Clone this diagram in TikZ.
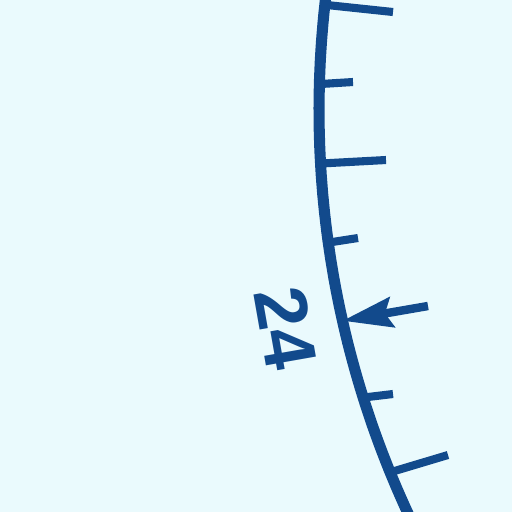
\documentclass[tikz,border=0pt]{standalone}
\usepackage{fontspec}
\setmainfont{Liberation Sans}
\usetikzlibrary{arrows.meta}
\definecolor{scaleblue}{RGB}{18,74,140}
\definecolor{paper}{RGB}{234,250,253}

\begin{document}
\begin{tikzpicture}[x=0.02cm, y=-0.02cm,
    dial/.style={draw=scaleblue, line width=6.3pt},
    scaletick/.style={draw=scaleblue, line width=4.6pt},
    pointer/.style={draw=scaleblue, line width=4.8pt,
      -{Stealth[length=1cm, width=0.6cm, inset=0.14cm]}}]
  \fill[paper] (0,0) rectangle (512,512);
  \useasboundingbox (0,0) rectangle (512,512);
  % dial arc
  \draw[dial] plot[domain=-7.5:26, samples=60]
    ({1278-959*cos(\x)}, {110+959*sin(\x)});
  % marks on the arc
  \foreach \k/\t in {0/-6.3, 1/-1.55, 2/3.2, 3/7.95, 4/12.7, 5/17.45, 6/22.2}
    \coordinate (m\k) at ({1278-959*cos(\t)}, {110+959*sin(\t)});
  \coordinate (e0) at (393,12);
  \coordinate (e1) at (353,82);
  \coordinate (e2) at (386,160);
  \coordinate (e3) at (358,238);
  \coordinate (e5) at (393,394);
  \coordinate (e6) at (448,455);
  \foreach \k in {0,1,2,3,5,6}
    \draw[scaletick] (m\k) -- (e\k);
  % pointer
  \coordinate (tail) at (428,306);
  \draw[pointer] (tail) -- (m4);
  \node[text=scaleblue, font=\fontsize{42}{42}\selectfont\bfseries, rotate=-80]
    (val) at (286,328) {24};
\end{tikzpicture}
\end{document}
